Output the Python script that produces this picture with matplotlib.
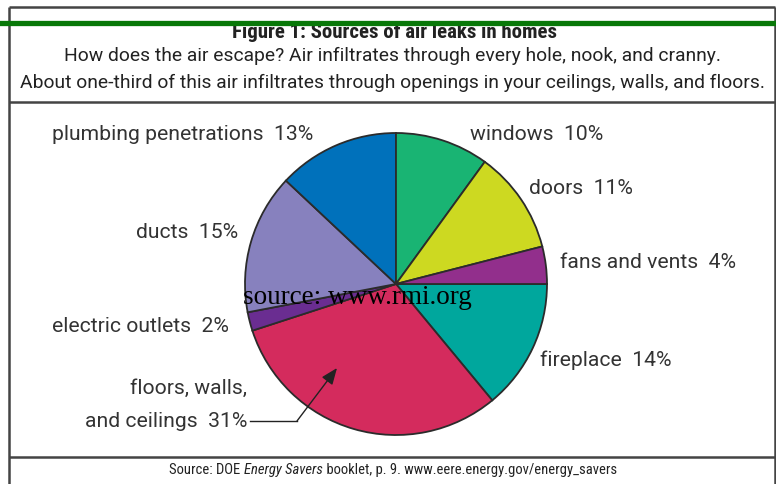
import matplotlib
matplotlib.use('Agg')
import matplotlib.pyplot as plt
from matplotlib import font_manager

# Slices listed clockwise, starting at 3 o'clock.
categories = ['fireplace', 'floors, walls,\nand ceilings', 'electric outlets', 'ducts',
              'plumbing penetrations', 'windows', 'doors', 'fans and vents']
shares = [14, 31, 2, 15, 13, 10, 11, 4]
slice_colors = ['#00a79d', '#d42b5d', '#6a2d91', '#8781be',
                '#0071bb', '#19b473', '#cdd921', '#922f8c']

title = 'Figure 1: Sources of air leaks in homes'
subtitle = ['How does the air escape? Air infiltrates through every hole, nook, and cranny.',
            'About one-third of this air infiltrates through openings in your ceilings, walls, and floors.']
watermark = 'source: www.rmi.org'
footer = ['Source: DOE ', 'Energy Savers', ' booklet, p. 9. www.eere.energy.gov/energy_savers']

W, H = 776, 485

installed = {f.name for f in font_manager.fontManager.ttflist}
narrow = next(n for n in ['Roboto Condensed', 'Liberation Sans Narrow', 'DejaVu Sans Condensed',
                          'Roboto', 'Liberation Sans', 'DejaVu Sans'] if n in installed)
sans = next(n for n in ['Roboto', 'Liberation Sans', 'DejaVu Sans'] if n in installed)
serif = next(n for n in ['Liberation Serif', 'DejaVu Serif'] if n in installed)

fig = plt.figure(figsize=(W / 100, H / 100), dpi=100)
ax = fig.add_axes([0, 0, 1, 1])


def py(y):
    # pixel row (from top) -> data y
    return H - y


# pie, centre and radius in pixels
wedges, _ = ax.pie(shares, colors=slice_colors, startangle=0, counterclock=False,
                   center=(396, py(285)), radius=151,
                   wedgeprops=dict(edgecolor='#2b2b2b', linewidth=1.3))
ax.set_xlim(0, W)
ax.set_ylim(0, H)
ax.set_aspect('auto')
ax.axis('off')

# frame lines
line_kw = dict(color='#444444', linewidth=1.8, solid_capstyle='butt')
ax.plot([9, 9], [py(8), py(485)], **line_kw)
ax.plot([775, 775], [py(8), py(485)], **line_kw)
ax.plot([9, 775], [py(8), py(8)], **line_kw)
ax.plot([9, 775], [py(103), py(103)], **line_kw)
ax.plot([9, 775], [py(458), py(458)], **line_kw)

# heading (green rule sits over the top of the title, as in the original)
ax.text(394, py(32), title, ha='center', va='center', fontsize=15, fontweight='bold',
        family=narrow, color='#222222')
ax.plot([0, W], [py(24), py(24)], color='#087808', linewidth=3.8, zorder=5)
for i, line in enumerate(subtitle):
    ax.text(392, py(56 + 27 * i), line, ha='center', va='center', fontsize=13.9,
            family=sans, color='#222222')

# slice labels
label_pos = {
    'fireplace': (540, 360, 'left'),
    'floors, walls,\nand ceilings': (247, 405, 'right'),
    'electric outlets': (52, 326, 'left'),
    'ducts': (238, 233, 'right'),
    'plumbing penetrations': (52, 134, 'left'),
    'windows': (470, 134, 'left'),
    'doors': (529, 188, 'left'),
    'fans and vents': (560, 262, 'left'),
}
for name, share in zip(categories, shares):
    x, y, ha = label_pos[name]
    ax.text(x, py(y), f'{name}  {share}%', ha=ha, va='center', fontsize=15.2,
            family=sans, color='#333333', ma='right', linespacing=1.9)

# leader arrow for floors, walls, and ceilings
ax.plot([250, 297], [py(422), py(422)], color='#222222', linewidth=1)
ax.annotate('', xy=(337, py(369)), xytext=(297, py(422)),
            arrowprops=dict(arrowstyle='-|>,head_length=1.0,head_width=0.4',
                            color='#222222', linewidth=1, shrinkA=0, shrinkB=0))

ax.text(243, py(297), watermark, ha='left', va='center', fontsize=19.5,
        family=serif, color='black')

# footer with italic title, laid out piece by piece
renderer = fig.canvas.get_renderer()
pieces = []
for i, part in enumerate(footer):
    t = ax.text(0, py(470), part, ha='left', va='center', fontsize=10.5, family=narrow,
                style='italic' if i == 1 else 'normal', color='#222222')
    pieces.append(t)
widths = [t.get_window_extent(renderer).width for t in pieces]
x = 393 - sum(widths) / 2
for t, w in zip(pieces, widths):
    t.set_x(x)
    x += w

fig.savefig('out.png', dpi=100)
